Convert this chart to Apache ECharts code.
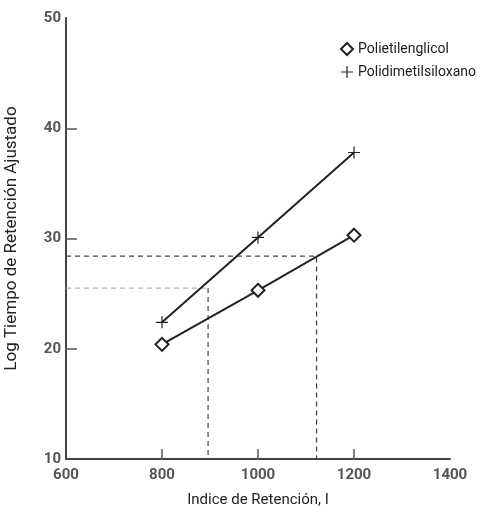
<!DOCTYPE html>
<html>
<head>
<meta charset="utf-8">
<script src="https://cdn.jsdelivr.net/npm/echarts@6/dist/echarts.min.js"></script>
<style>
  html, body { margin: 0; padding: 0; background: #fff; }
  #chart { width: 485px; height: 506px; }
</style>
</head>
<body>
<div id="chart"></div>
<script>
// datos
const indices = [800, 1000, 1200]
const peg = [20.4, 25.3, 30.3]          // Polietilenglicol
const pdms = [22.4, 30.1, 37.8]         // Polidimetilsiloxano
const guideUpper = [[600, 28.4], [1122, 28.4], [1122, 10]]
const guideLowerH = [[600, 25.5], [896, 25.5]]
const guideLowerV = [[896, 25.5], [896, 10]]
const xTicks = [800, 1000, 1200]
const yTicks = [20, 30, 40]

const plusPath = 'path://M9,0h2v9h9v2h-9v9h-2v-9h-9v-2h9z'
const tickFont = {
  color: '#555', fontSize: 15, fontWeight: 'bold', fontFamily: 'Roboto',
  formatter: v => String(v)
}

const chart = echarts.init(document.getElementById('chart'))

const option = {
  backgroundColor: '#fff',
  animation: false,
  grid: { left: 66, right: 35, top: 18, bottom: 47, containLabel: false, outerBoundsMode: 'none' },
  legend: {
    orient: 'vertical',
    left: 335,
    top: 37,
    itemWidth: 12,
    itemHeight: 12,
    itemGap: 9,
    textStyle: { color: '#222', fontSize: 14, fontFamily: 'Roboto' },
    data: [
      { name: 'Polietilenglicol', icon: 'emptyDiamond' },
      { name: 'Polidimetilsiloxano', icon: plusPath }
    ]
  },
  xAxis: {
    type: 'value',
    min: 600,
    max: 1400,
    interval: 200,
    name: 'Indice de Retención, I',
    nameLocation: 'middle',
    nameGap: 34,
    nameTextStyle: { color: '#222', fontSize: 15, fontFamily: 'Roboto' },
    axisLine: { show: true, lineStyle: { color: '#444', width: 2 } },
    axisTick: { show: true, inside: true, length: 10, customValues: xTicks, lineStyle: { color: '#555', width: 1.5 } },
    axisLabel: Object.assign({ margin: 9 }, tickFont),
    splitLine: { show: false }
  },
  yAxis: {
    type: 'value',
    min: 10,
    max: 50,
    interval: 10,
    name: 'Log Tiempo de Retención Ajustado',
    nameLocation: 'middle',
    nameGap: 46,
    nameTextStyle: { color: '#222', fontSize: 17, fontFamily: 'Roboto' },
    axisLine: { show: true, lineStyle: { color: '#444', width: 2 } },
    axisTick: { show: true, inside: true, length: 11, customValues: yTicks, lineStyle: { color: '#555', width: 1.5 } },
    axisLabel: Object.assign({ margin: 5 }, tickFont),
    splitLine: { show: false }
  },
  series: [
    {
      name: 'guia1',
      type: 'line',
      data: guideUpper,
      symbol: 'none',
      silent: true,
      lineStyle: { color: '#444', width: 1.3, type: [5, 4] }
    },
    {
      name: 'guia2h',
      type: 'line',
      data: guideLowerH,
      symbol: 'none',
      silent: true,
      lineStyle: { color: '#b5b5b5', width: 1.3, type: [5, 4] }
    },
    {
      name: 'guia2v',
      type: 'line',
      data: guideLowerV,
      symbol: 'none',
      silent: true,
      lineStyle: { color: '#555', width: 1.3, type: [5, 4] }
    },
    {
      name: 'Polidimetilsiloxano',
      type: 'line',
      data: indices.map((x, i) => [x, pdms[i]]),
      symbol: plusPath,
      symbolSize: 12,
      itemStyle: { color: '#222' },
      lineStyle: { color: '#222', width: 2 }
    },
    {
      name: 'Polietilenglicol',
      type: 'line',
      data: indices.map((x, i) => [x, peg[i]]),
      symbol: 'emptyDiamond',
      symbolSize: 13,
      itemStyle: { color: '#222', borderWidth: 1.8 },
      lineStyle: { color: '#222', width: 2 }
    }
  ]
}

chart.setOption(option)
</script>
</body>
</html>
